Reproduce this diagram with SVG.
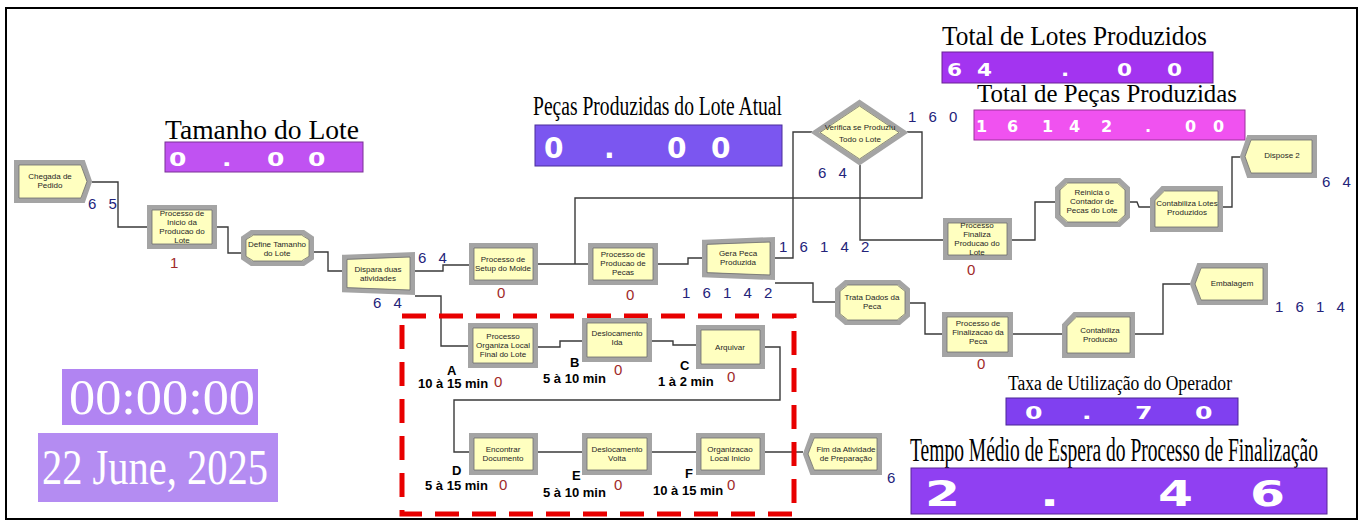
<svg xmlns="http://www.w3.org/2000/svg" xmlns:xlink="http://www.w3.org/1999/xlink" width="1364" height="521" viewBox="0 0 1364 521">
<style>
.bev{fill:#ffffc0;stroke:#a4a4a4}
.inl{fill:none;stroke:#6c6c6c}
.lbl{font-family:"Liberation Sans",Arial,sans-serif;font-size:8px;fill:#262626;text-anchor:middle}
.cnt{font-family:"Liberation Sans",Arial,sans-serif;font-size:15px;fill:#23237a;letter-spacing:4px}
.red{font-family:"Liberation Sans",Arial,sans-serif;font-size:15px;fill:#a02a2a}
.tm{font-family:"Liberation Sans",Arial,sans-serif;font-size:13px;font-weight:bold;fill:#000}
.ttl{font-family:"Liberation Serif","Times New Roman",serif;fill:#000}
.dig{font-family:"DejaVu Sans",sans-serif;font-weight:bold;fill:#fff}
.clk{font-family:"Liberation Serif","Times New Roman",serif;fill:#fff}
.con{fill:none;stroke:#3a3a3a;stroke-width:1.4}
</style>
<defs>
<path id="s-proc" d="M0,0 H100 V100 H0 Z" vector-effect="non-scaling-stroke"/>
<path id="s-create" d="M0,0 H91 L100,50 L91,100 H0 Z" vector-effect="non-scaling-stroke"/>
<path id="s-disp" d="M9,0 H100 V100 H9 L0,50 Z" vector-effect="non-scaling-stroke"/>
<path id="s-assign" d="M12,0 H88 L100,18 V82 L88,100 H12 L0,82 V18 Z" vector-effect="non-scaling-stroke"/>
<path id="s-sep" d="M0,7 L100,0 V100 L0,93 Z" vector-effect="non-scaling-stroke"/>
<path id="s-rec" d="M15,0 H100 V100 H0 V26 Z" vector-effect="non-scaling-stroke"/>
<path id="s-dec" d="M0,50 L50,0 L100,50 L50,100 Z" vector-effect="non-scaling-stroke"/>
</defs>
<rect x="0" y="0" width="1364" height="521" fill="#fff"/>
<rect x="6" y="8" width="1351" height="511" fill="#fff" stroke="#000" stroke-width="2"/>

<!-- displays -->
<g id="disp-tamanho">
<text class="ttl" x="165" y="139" font-size="27" textLength="194" lengthAdjust="spacingAndGlyphs">Tamanho do Lote</text>
<rect x="165" y="142" width="198" height="30" fill="#c052f2" stroke="#7a3096" stroke-width="1"/>
<text class="dig" font-size="20" transform="scale(1.25,1)" y="166" x="135.2 152 177.6 192 213.6 230.4 246.4">0 . 0 0</text>
</g>
<g id="disp-pecas-lote">
<text class="ttl" x="533" y="115" font-size="27" textLength="249" lengthAdjust="spacingAndGlyphs">Peças Produzidas do Lote Atual</text>
<rect x="535" y="125" width="247" height="41" fill="#7b56f0" stroke="#4a2d9a" stroke-width="1"/>
<text class="dig" font-size="28" y="158" x="544 570 604 630 667 690 711">0 . 0 0</text>
</g>
<g id="disp-total-lotes">
<text class="ttl" x="942" y="45" font-size="27" textLength="265" lengthAdjust="spacingAndGlyphs">Total de Lotes Produzidos</text>
<rect x="942" y="52" width="271" height="31" fill="#a334f0" stroke="#6a2096" stroke-width="1"/>
<text class="dig" font-size="17" transform="scale(1.27,1)" y="76" x="745.7 757.5 769.3 803.1 835.4 858.3 879.5 899.2 918.9">6 4 . 0 0</text>
</g>
<g id="disp-total-pecas">
<text class="ttl" x="977" y="102" font-size="26" textLength="260" lengthAdjust="spacingAndGlyphs">Total de Peças Produzidas</text>
<rect x="974" y="110" width="271" height="30" fill="#f052f0" stroke="#9a309a" stroke-width="1"/>
<text class="dig" font-size="16" y="132" x="976 992 1007 1025 1042 1056 1069 1086 1101 1124 1145 1165 1185 1200 1213">1 6 1 4 2 . 0 0</text>
</g>
<g id="disp-taxa">
<text class="ttl" x="1008" y="390" font-size="20" textLength="224" lengthAdjust="spacingAndGlyphs">Taxa de Utilização do Operador</text>
<rect x="1006" y="398" width="232" height="27" fill="#8040f0" stroke="#4a2496" stroke-width="1"/>
<text class="dig" font-size="18" transform="scale(1.4,1)" y="419" x="732.1 753.6 772.9 792.9 810.7 832.1 853.6">0 . 7 0</text>
</g>
<g id="disp-tempo">
<text class="ttl" font-size="19" transform="translate(910,461) scale(1,1.75)" x="0" y="0" textLength="408" lengthAdjust="spacingAndGlyphs">Tempo Médio de Espera do Processo de Finalização</text>
<rect x="911" y="468" width="416" height="46" fill="#9040f2" stroke="#582496" stroke-width="1"/>
<text class="dig" font-size="36" transform="scale(1.4,1)" y="506" x="660.7 703.6 742.9 785.7 827.1 864.3 892.9">2 . 4 6</text>
</g>
<g id="clock">
<rect x="62" y="369" width="196" height="56" fill="#b184f2"/>
<text class="clk" x="69" y="414" font-size="50" textLength="186" lengthAdjust="spacingAndGlyphs">00:00:00</text>
</g>
<g id="date">
<rect x="38" y="433" width="240" height="69" fill="#b48cf2"/>
<text class="clk" x="42" y="484" font-size="50" textLength="226" lengthAdjust="spacingAndGlyphs">22 June, 2025</text>
</g>

<!-- connectors -->
<g id="connectors">
<path class="con" d="M92,182 H118 V227 H147"/>
<path class="con" d="M217,227 H228 V253 H241"/>
<path class="con" d="M314,252 H328 V271 H342"/>
<path class="con" d="M415,271 H443 V265 H469"/>
<path class="con" d="M415,296 H441 V346 H468"/>
<path class="con" d="M538,264 H588"/>
<path class="con" d="M658,264 H688 V258 H702"/>
<path class="con" d="M775,258 H793 V132 H812"/>
<path class="con" d="M907,132 H922 V198 H575 V264"/>
<path class="con" d="M860,165 V240 H943"/>
<path class="con" d="M1012,240 H1035 V202 H1055"/>
<path class="con" d="M1130,202 H1137 L1139,207 H1150"/>
<path class="con" d="M1223,207 H1232 V157 H1240"/>
<path class="con" d="M775,283 H813 V302 H835"/>
<path class="con" d="M910,303 H925 V334 H942"/>
<path class="con" d="M1013,334 H1062"/>
<path class="con" d="M1135,334 H1163 V284 H1190"/>
<path class="con" d="M538,347 H560 V341 H582"/>
<path class="con" d="M652,341 H673 V345 H696"/>
<path class="con" d="M765,347 H780 V400 H454 V452 H469"/>
<path class="con" d="M538,452 H582"/>
<path class="con" d="M652,452 H696"/>
<path class="con" d="M765,452 H803"/>
</g>

<!-- nodes -->
<g id="n-chegada">
<use href="#s-create" class="bev" stroke-width="5" transform="translate(16.5,162.5) scale(0.73,0.38)"/>
<use href="#s-create" class="inl" stroke-width="0.8" transform="translate(19,165) scale(0.68,0.33)"/>
<text class="lbl" x="50" y="179">Chegada de</text><text class="lbl" x="50" y="188">Pedido</text>
<text class="cnt" x="88" y="209">6 5</text>
</g>
<g id="n-inicio">
<use href="#s-proc" class="bev" stroke-width="5" transform="translate(149.5,207.5) scale(0.65,0.39)"/>
<use href="#s-proc" class="inl" stroke-width="0.8" transform="translate(152,210) scale(0.60,0.34)"/>
<text class="lbl" x="182" y="216">Processo de</text><text class="lbl" x="182" y="225">Inicio da</text><text class="lbl" x="182" y="234">Producao do</text><text class="lbl" x="182" y="243">Lote</text>
<text class="red" x="170" y="268">1</text>
</g>
<g id="n-define">
<use href="#s-assign" class="bev" stroke-width="5" transform="translate(243.5,232.5) scale(0.68,0.31)"/>
<use href="#s-assign" class="inl" stroke-width="0.8" transform="translate(246,235) scale(0.63,0.26)"/>
<text class="lbl" x="277" y="247">Define Tamanho</text><text class="lbl" x="277" y="256">do Lote</text>
</g>
<g id="n-dispara">
<use href="#s-sep" class="bev" stroke-width="5" transform="translate(344.5,254.5) scale(0.68,0.38)"/>
<use href="#s-sep" class="inl" stroke-width="0.8" transform="translate(347,257) scale(0.63,0.33)"/>
<text class="lbl" x="378" y="272">Dispara duas</text><text class="lbl" x="378" y="281">atividades</text>
<text class="cnt" x="418" y="263">6 4</text>
<text class="cnt" x="373" y="308">6 4</text>
</g>
<g id="n-setup">
<use href="#s-proc" class="bev" stroke-width="5" transform="translate(471.5,245.5) scale(0.64,0.37)"/>
<use href="#s-proc" class="inl" stroke-width="0.8" transform="translate(474,248) scale(0.59,0.32)"/>
<text class="lbl" x="503" y="262">Processo de</text><text class="lbl" x="503" y="271">Setup do Molde</text>
<text class="red" x="497" y="298">0</text>
</g>
<g id="n-producao">
<use href="#s-proc" class="bev" stroke-width="5" transform="translate(590.5,245.5) scale(0.65,0.37)"/>
<use href="#s-proc" class="inl" stroke-width="0.8" transform="translate(593,248) scale(0.60,0.32)"/>
<text class="lbl" x="623" y="257">Processo de</text><text class="lbl" x="623" y="266">Producao de</text><text class="lbl" x="623" y="275">Pecas</text>
<text class="red" x="626" y="300">0</text>
</g>
<g id="n-gera">
<use href="#s-sep" class="bev" stroke-width="5" transform="translate(704.5,239.5) scale(0.68,0.38)"/>
<use href="#s-sep" class="inl" stroke-width="0.8" transform="translate(707,242) scale(0.63,0.33)"/>
<text class="lbl" x="738" y="256">Gera Peca</text><text class="lbl" x="738" y="265">Produzida</text>
<text class="cnt" x="682" y="298">1 6 1 4 2</text>
<text class="cnt" x="779" y="252">1 6 1 4 2</text>
</g>
<g id="n-verifica">
<use href="#s-dec" class="bev" stroke-width="5" transform="translate(815,102.5) scale(0.89,0.60)"/>
<use href="#s-dec" class="inl" stroke-width="0.8" transform="translate(820,106) scale(0.79,0.53)"/>
<text class="lbl" x="860" y="130">Verifica se Produziu</text><text class="lbl" x="860" y="142">Todo o Lote</text>
<text class="cnt" x="908" y="122" letter-spacing="5">1 6 0</text>
<text class="cnt" x="818" y="178">6 4</text>
</g>
<g id="n-finaliza">
<use href="#s-proc" class="bev" stroke-width="5" transform="translate(945.5,220.5) scale(0.64,0.37)"/>
<use href="#s-proc" class="inl" stroke-width="0.8" transform="translate(948,223) scale(0.59,0.32)"/>
<text class="lbl" x="977" y="228">Processo</text><text class="lbl" x="977" y="237">Finaliza</text><text class="lbl" x="977" y="246">Producao do</text><text class="lbl" x="977" y="255">Lote</text>
<text class="red" x="967" y="275">0</text>
</g>
<g id="n-reinicia">
<use href="#s-assign" class="bev" stroke-width="5" transform="translate(1057.5,180.5) scale(0.70,0.44)"/>
<use href="#s-assign" class="inl" stroke-width="0.8" transform="translate(1060,183) scale(0.65,0.39)"/>
<text class="lbl" x="1092" y="195">Reinicia o</text><text class="lbl" x="1092" y="204">Contador de</text><text class="lbl" x="1092" y="213">Pecas do Lote</text>
</g>
<g id="n-contlotes">
<use href="#s-rec" class="bev" stroke-width="5" transform="translate(1152.5,188.5) scale(0.68,0.41)"/>
<use href="#s-rec" class="inl" stroke-width="0.8" transform="translate(1155,191) scale(0.63,0.36)"/>
<text class="lbl" x="1187" y="206">Contabiliza Lotes</text><text class="lbl" x="1187" y="215">Produzidos</text>
</g>
<g id="n-dispose2">
<use href="#s-disp" class="bev" stroke-width="5" transform="translate(1242.5,137.5) scale(0.72,0.38)"/>
<use href="#s-disp" class="inl" stroke-width="0.8" transform="translate(1245,140) scale(0.67,0.33)"/>
<text class="lbl" x="1282" y="158">Dispose 2</text>
<text class="cnt" x="1322" y="187">6 4</text>
</g>
<g id="n-trata">
<use href="#s-assign" class="bev" stroke-width="5" transform="translate(837.5,282.5) scale(0.70,0.40)"/>
<use href="#s-assign" class="inl" stroke-width="0.8" transform="translate(840,285) scale(0.65,0.35)"/>
<text class="lbl" x="872" y="300">Trata Dados da</text><text class="lbl" x="872" y="309">Peca</text>
</g>
<g id="n-finpeca">
<use href="#s-proc" class="bev" stroke-width="5" transform="translate(944.5,314.5) scale(0.66,0.40)"/>
<use href="#s-proc" class="inl" stroke-width="0.8" transform="translate(947,317) scale(0.61,0.35)"/>
<text class="lbl" x="978" y="326">Processo de</text><text class="lbl" x="978" y="335">Finalizacao da</text><text class="lbl" x="978" y="344">Peca</text>
<text class="red" x="977" y="369">0</text>
</g>
<g id="n-contprod">
<use href="#s-rec" class="bev" stroke-width="5" transform="translate(1064.5,314.5) scale(0.68,0.41)"/>
<use href="#s-rec" class="inl" stroke-width="0.8" transform="translate(1067,317) scale(0.63,0.36)"/>
<text class="lbl" x="1100" y="333">Contabiliza</text><text class="lbl" x="1100" y="342">Producao</text>
</g>
<g id="n-embalagem">
<use href="#s-disp" class="bev" stroke-width="5" transform="translate(1192.5,265.5) scale(0.73,0.37)"/>
<use href="#s-disp" class="inl" stroke-width="0.8" transform="translate(1195,268) scale(0.68,0.32)"/>
<text class="lbl" x="1232" y="286">Embalagem</text>
<text class="cnt" x="1275" y="312">1 6 1 4</text>
</g>

<!-- dashed group -->
<rect id="red-box" x="402" y="316" width="392" height="198" fill="none" stroke="#e80000" stroke-width="5" stroke-dasharray="24,13"/>
<g id="n-a">
<use href="#s-proc" class="bev" stroke-width="5" transform="translate(470.5,325.5) scale(0.65,0.40)"/>
<use href="#s-proc" class="inl" stroke-width="0.8" transform="translate(473,328) scale(0.60,0.35)"/>
<text class="lbl" x="503" y="339">Processo</text><text class="lbl" x="503" y="348">Organiza Local</text><text class="lbl" x="503" y="357">Final do Lote</text>
<text class="tm" x="447" y="375">A</text><text class="tm" x="418" y="388">10 à 15 min</text>
<text class="red" x="494" y="387">0</text>
</g>
<g id="n-b">
<use href="#s-proc" class="bev" stroke-width="5" transform="translate(584.5,320.5) scale(0.65,0.39)"/>
<use href="#s-proc" class="inl" stroke-width="0.8" transform="translate(587,323) scale(0.60,0.34)"/>
<text class="lbl" x="617" y="336">Deslocamento</text><text class="lbl" x="617" y="345">Ida</text>
<text class="tm" x="570" y="367">B</text><text class="tm" x="543" y="383">5 à 10 min</text>
<text class="red" x="614" y="375">0</text>
</g>
<g id="n-c">
<use href="#s-proc" class="bev" stroke-width="5" transform="translate(698.5,327.5) scale(0.64,0.39)"/>
<use href="#s-proc" class="inl" stroke-width="0.8" transform="translate(701,330) scale(0.59,0.34)"/>
<text class="lbl" x="730" y="350">Arquivar</text>
<text class="tm" x="680" y="370">C</text><text class="tm" x="658" y="386">1 à 2 min</text>
<text class="red" x="727" y="382">0</text>
</g>
<g id="n-d">
<use href="#s-proc" class="bev" stroke-width="5" transform="translate(471.5,435.5) scale(0.64,0.37)"/>
<use href="#s-proc" class="inl" stroke-width="0.8" transform="translate(474,438) scale(0.59,0.32)"/>
<text class="lbl" x="503" y="452">Encontrar</text><text class="lbl" x="503" y="461">Documento</text>
<text class="tm" x="452" y="475">D</text><text class="tm" x="425" y="490">5 à 15 min</text>
<text class="red" x="499" y="490">0</text>
</g>
<g id="n-e">
<use href="#s-proc" class="bev" stroke-width="5" transform="translate(584.5,435.5) scale(0.65,0.37)"/>
<use href="#s-proc" class="inl" stroke-width="0.8" transform="translate(587,438) scale(0.60,0.32)"/>
<text class="lbl" x="617" y="452">Deslocamento</text><text class="lbl" x="617" y="461">Volta</text>
<text class="tm" x="572" y="480">E</text><text class="tm" x="543" y="497">5 à 10 min</text>
<text class="red" x="614" y="490">0</text>
</g>
<g id="n-f">
<use href="#s-proc" class="bev" stroke-width="5" transform="translate(698.5,435.5) scale(0.64,0.37)"/>
<use href="#s-proc" class="inl" stroke-width="0.8" transform="translate(701,438) scale(0.59,0.32)"/>
<text class="lbl" x="730" y="452">Organizacao</text><text class="lbl" x="730" y="461">Local Inicio</text>
<text class="tm" x="685" y="478">F</text><text class="tm" x="653" y="495">10 à 15 min</text>
<text class="red" x="727" y="490">0</text>
</g>
<g id="n-fim">
<use href="#s-disp" class="bev" stroke-width="5" transform="translate(805.5,435.5) scale(0.74,0.37)"/>
<use href="#s-disp" class="inl" stroke-width="0.8" transform="translate(808,438) scale(0.69,0.32)"/>
<text class="lbl" x="846" y="452">Fim da Atividade</text><text class="lbl" x="846" y="461">de Preparação</text>
<text class="cnt" x="887" y="483">6</text>
</g>
</svg>
